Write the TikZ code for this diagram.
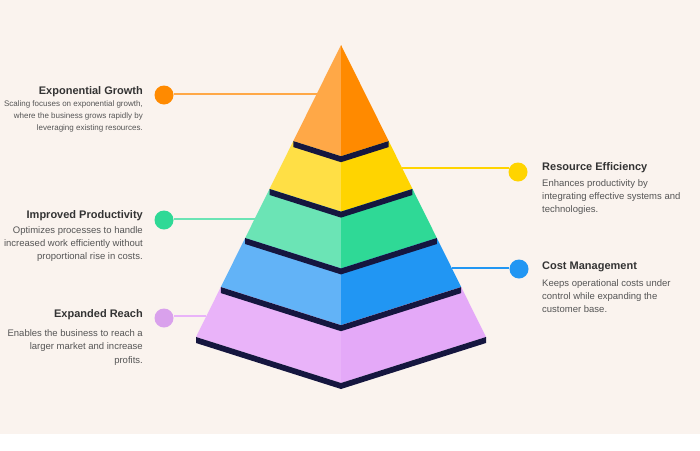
\documentclass[tikz,border=0pt]{standalone}
\usepackage{fontspec}
\setmainfont{Liberation Sans}
\usetikzlibrary{calc}

\definecolor{bgcream}{HTML}{FAF3EE}
\definecolor{navyband}{HTML}{15163F}
\definecolor{titlegray}{HTML}{333333}
\definecolor{bodygray}{HTML}{555555}
\definecolor{orangeL}{HTML}{FFA847}
\definecolor{orangeR}{HTML}{FF8A00}
\definecolor{yellowL}{HTML}{FFDF45}
\definecolor{yellowR}{HTML}{FFD400}
\definecolor{greenL}{HTML}{6BE4B5}
\definecolor{greenR}{HTML}{2FD996}
\definecolor{blueL}{HTML}{62B3F7}
\definecolor{blueR}{HTML}{2196F3}
\definecolor{purpleL}{HTML}{E9B3F9}
\definecolor{purpleR}{HTML}{E4A9F8}

\begin{document}
\begin{tikzpicture}[x=1pt,y=-1pt,
  band/.style={fill=navyband},
  dot/.style={circle,inner sep=0pt,minimum size=19pt},
  link/.style={line width=1.3pt},
  title/.style={font=\fontsize{11}{13}\selectfont\bfseries,text=titlegray,inner sep=0pt},
  body/.style={font=\fontsize{9.5}{13.3}\selectfont,text=bodygray,inner sep=0pt}]

  % Draw the background
  \fill[white] (0,0) rectangle (700,450);
  \fill[bgcream] (0,0) rectangle (700,434);

  % Corners of the pyramid
  \coordinate (A) at (341,45);
  \coordinate (L) at (196,337);
  \coordinate (R) at (486,337);
  \coordinate (C) at (341,383);

  % Fill in the tiers, light half and dark half
  \foreach \ta/\tb/\cl/\cr in {0/0.329/orangeL/orangeR, 0.329/0.493/yellowL/yellowR,
      0.493/0.661/greenL/greenR, 0.661/0.829/blueL/blueR, 0.829/1/purpleL/purpleR}{
    \fill[\cl] ($(A)!\ta!(L)$) -- ($(A)!\tb!(L)$) -- ($(A)!\tb!(C)$) -- ($(A)!\ta!(C)$) -- cycle;
    \fill[\cr] ($(A)!\ta!(C)$) -- ($(A)!\tb!(C)$) -- ($(A)!\tb!(R)$) -- ($(A)!\ta!(R)$) -- cycle;
  }

  % Dark band under each tier
  \foreach \t in {0.329,0.493,0.661,0.829,1}{
    \fill[band] ($(A)!\t!(L)$) -- ($(A)!\t!(C)$) -- ($(A)!\t!(R)$) -- ++(0,6)
      -- ($(A)!\t!(C)+(0,6)$) -- ($(A)!\t!(L)+(0,6)$) -- cycle;
  }

  % Points on the pyramid where the links start
  \coordinate (pgrowth) at ($(A)!0.168!(L)$);
  \coordinate (pefficiency) at ($(A)!0.421!(R)$);
  \coordinate (pproductivity) at ($(A)!0.596!(L)$);
  \coordinate (pcost) at ($(A)!0.764!(R)$);
  \coordinate (preach) at ($(A)!0.928!(L)$);

  % Dots
  \node[dot, fill=orangeR] (dgrowth) at (164,95) {};
  \node[dot, fill=yellowR] (defficiency) at (518,172) {};
  \node[dot, fill=greenR] (dproductivity) at (164,220) {};
  \node[dot, fill=blueR] (dcost) at (519,269) {};
  \node[dot, fill=purpleR!95!black] (dreach) at (164,318) {};

  % Links from the pyramid to the dots
  \draw[link, orangeL] (pgrowth) -- (dgrowth.east |- pgrowth);
  \draw[link, yellowR] (pefficiency) -- ([xshift=1pt]defficiency.west |- pefficiency);
  \draw[link, greenL] (pproductivity) -- (dproductivity.east |- pproductivity);
  \draw[link, blueR] (pcost) -- (dcost.west |- pcost);
  \draw[link, purpleL] (preach) -- (dreach.east |- preach);

  % Left texts (base = last line)
  \node[title, anchor=base east] (tgrowth) at (143,94) {Exponential Growth};
  \node[body, anchor=base east, align=right, font=\fontsize{8}{12}\selectfont] (bgrowth) at (143,130.7)
    {Scaling focuses on exponential growth,\\where the business grows rapidly by\\leveraging existing resources.};
  \node[title, anchor=base east] (tproductivity) at (143,218.3) {Improved Productivity};
  \node[body, anchor=base east, align=right] (bproductivity) at (143,259.7)
    {Optimizes processes to handle\\increased work efficiently without\\proportional rise in costs.};
  \node[title, anchor=base east] (treach) at (143,317.7) {Expanded Reach};
  \node[body, anchor=base east, align=right] (breach) at (143,363)
    {Enables the business to reach a\\larger market and increase\\profits.};

  % Right texts
  \node[title, anchor=base west] (tefficiency) at (542,170.7) {Resource Efficiency};
  \node[body, anchor=base west, align=left] (befficiency) at (542,212.7)
    {Enhances productivity by\\integrating effective systems and\\technologies.};
  \node[title, anchor=base west] (tcost) at (542,269.3) {Cost Management};
  \node[body, anchor=base west, align=left] (bcost) at (542,312.7)
    {Keeps operational costs under\\control while expanding the\\customer base.};
\end{tikzpicture}
\end{document}
